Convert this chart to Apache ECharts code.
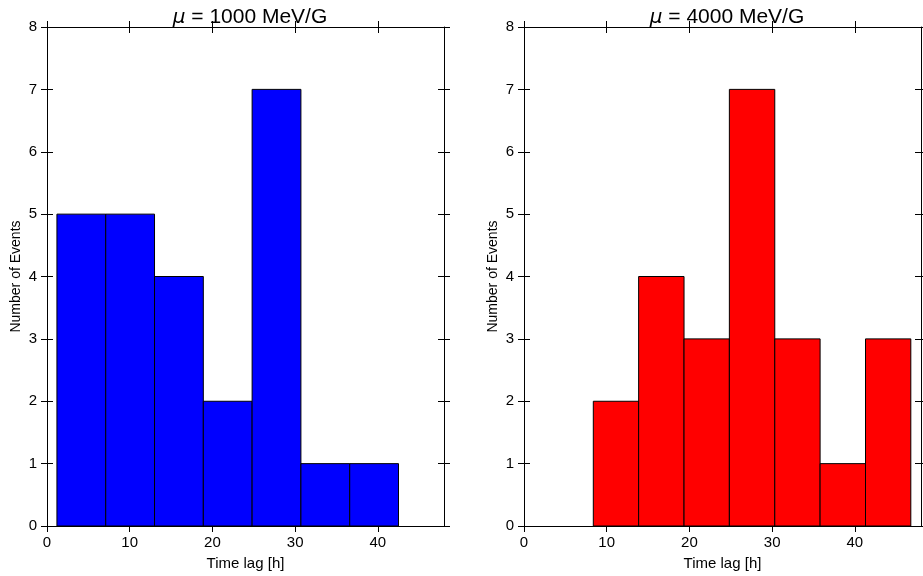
<!DOCTYPE html>
<html>
<head>
<meta charset="utf-8">
<script src="https://cdn.jsdelivr.net/npm/echarts@6/dist/echarts.min.js"></script>
<style>
html,body{margin:0;padding:0;background:#fff;}
#c{width:923px;height:576px;}
</style>
</head>
<body>
<div id="c"></div>
<script>
// Data
const leftTitle = '1000 MeV/G';
const rightTitle = '4000 MeV/G';
const leftEdges = [1.2, 7.1, 13.0, 18.9, 24.8, 30.7, 36.6, 42.5];
const leftCounts = [5, 5, 4, 2, 7, 1, 1];
const rightEdges = [8.38, 13.86, 19.35, 24.83, 30.32, 35.8, 41.29, 46.77];
const rightCounts = [2, 4, 3, 7, 3, 1, 3];
const xTicks = [0, 10, 20, 30, 40];
const xName = 'Time lag [h]';
const yName = 'Number of Events';
const xMin = 0, xMax = 48, yMin = 0, yMax = 8;

const FONT = '"Liberation Sans", Arial, sans-serif';
const chart = echarts.init(document.getElementById('c'));

const grids = [
  {left: 47, top: 27, width: 397, height: 499},
  {left: 524, top: 27, width: 397, height: 499}
];

const xAxes = [], yAxes = [];
const lineStyle = {color: '#000', width: 1};
grids.forEach((g, gi) => {
  const xBase = {type: 'value', gridIndex: gi, min: xMin, max: xMax, interval: 10,
    splitLine: {show: false}};
  xAxes.push(Object.assign({}, xBase, {
    position: 'bottom', name: xName, nameLocation: 'middle', nameGap: 30,
    nameTextStyle: {fontFamily: FONT, fontSize: 15, color: '#000'},
    axisLine: {show: true, onZero: false, lineStyle},
    axisTick: {show: true, inside: false, length: 6, lineStyle, customValues: xTicks},
    axisLabel: {show: true, margin: 9, fontFamily: FONT, fontSize: 15, color: '#000', customValues: xTicks}
  }));
  xAxes.push(Object.assign({}, xBase, {
    position: 'bottom', axisLine: {show: false, onZero: false},
    axisTick: {show: true, inside: true, length: 6, lineStyle, customValues: xTicks},
    axisLabel: {show: false}
  }));
  xAxes.push(Object.assign({}, xBase, {
    position: 'top', axisLine: {show: true, onZero: false, lineStyle},
    axisTick: {show: true, inside: false, length: 6, lineStyle, customValues: xTicks},
    axisLabel: {show: false}
  }));
  xAxes.push(Object.assign({}, xBase, {
    position: 'top', axisLine: {show: false, onZero: false},
    axisTick: {show: true, inside: true, length: 6, lineStyle, customValues: xTicks},
    axisLabel: {show: false}
  }));
  const yBase = {type: 'value', gridIndex: gi, min: yMin, max: yMax, interval: 1,
    splitLine: {show: false}};
  yAxes.push(Object.assign({}, yBase, {
    position: 'left', name: yName, nameLocation: 'middle', nameGap: 24,
    nameTextStyle: {fontFamily: FONT, fontSize: 14, color: '#000'},
    axisLine: {show: true, onZero: false, lineStyle},
    axisTick: {show: true, inside: false, length: 6, lineStyle},
    axisLabel: {show: true, margin: 10, fontFamily: FONT, fontSize: 15, color: '#000'}
  }));
  yAxes.push(Object.assign({}, yBase, {
    position: 'left', axisLine: {show: false, onZero: false},
    axisTick: {show: true, inside: true, length: 6, lineStyle},
    axisLabel: {show: false}
  }));
  yAxes.push(Object.assign({}, yBase, {
    position: 'right', axisLine: {show: true, onZero: false, lineStyle},
    axisTick: {show: true, inside: false, length: 6, lineStyle},
    axisLabel: {show: false}
  }));
  yAxes.push(Object.assign({}, yBase, {
    position: 'right', axisLine: {show: false, onZero: false},
    axisTick: {show: true, inside: true, length: 6, lineStyle},
    axisLabel: {show: false}
  }));
});

function histData(edges, counts) {
  return counts.map((c, i) => [edges[i], edges[i + 1], c]);
}
function renderBin(params, api) {
  const p0 = api.coord([api.value(0), api.value(2)]);
  const p1 = api.coord([api.value(1), 0]);
  return {
    type: 'rect',
    shape: {x: p0[0], y: p0[1], width: p1[0] - p0[0], height: p1[1] - p0[1]},
    style: {fill: api.visual('color'), stroke: '#000', lineWidth: 1}
  };
}

const titleStyle = {
  fontFamily: FONT, fontSize: 21, color: '#000', fontWeight: 'normal',
  rich: {
    mu: {fontFamily: '"DejaVu Sans", sans-serif', fontStyle: 'italic', fontSize: 20, color: '#000'},
    t: {fontFamily: FONT, fontSize: 21, color: '#000'}
  }
};

chart.setOption({
  animation: false,
  backgroundColor: '#fff',
  title: [
    {text: '{mu|μ}{t| = ' + leftTitle + '}', left: 245, top: 2, textAlign: 'center', textStyle: titleStyle},
    {text: '{mu|μ}{t| = ' + rightTitle + '}', left: 722, top: 2, textAlign: 'center', textStyle: titleStyle}
  ],
  grid: grids,
  xAxis: xAxes,
  yAxis: yAxes,
  series: [
    {type: 'custom', xAxisIndex: 0, yAxisIndex: 0, renderItem: renderBin,
      itemStyle: {color: '#0000ff'}, encode: {x: [0, 1], y: 2}, data: histData(leftEdges, leftCounts)},
    {type: 'custom', xAxisIndex: 4, yAxisIndex: 4, renderItem: renderBin,
      itemStyle: {color: '#ff0000'}, encode: {x: [0, 1], y: 2}, data: histData(rightEdges, rightCounts)}
  ]
});
</script>
</body>
</html>
